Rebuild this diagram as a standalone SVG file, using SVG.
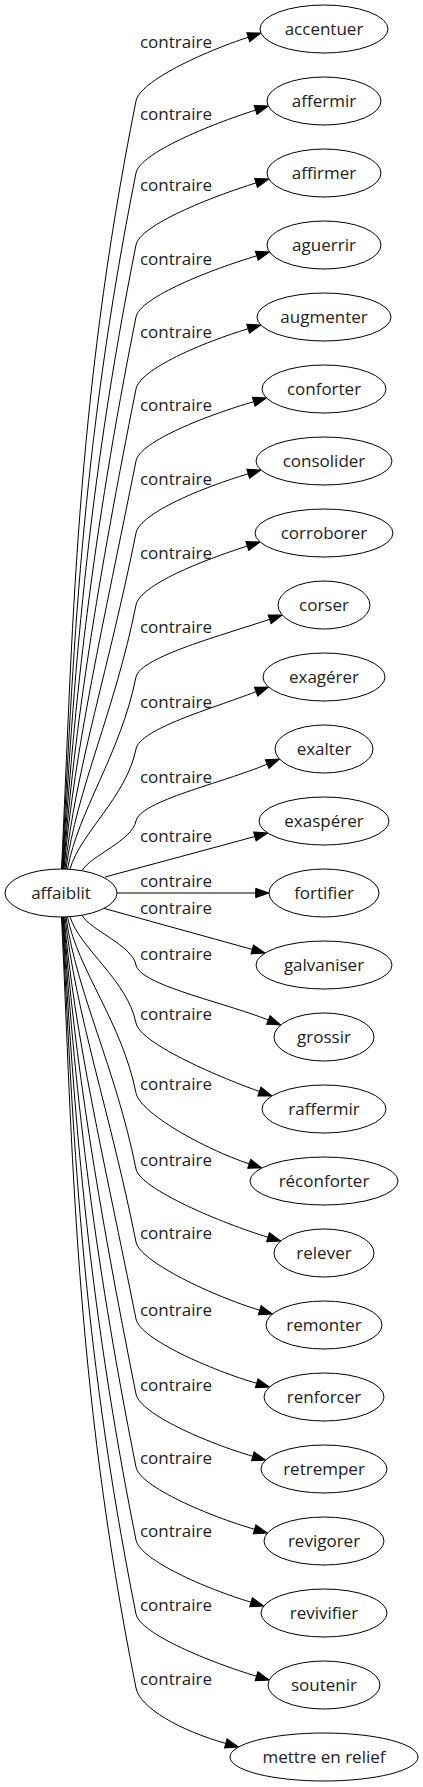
<svg xmlns="http://www.w3.org/2000/svg" width="423" height="1787" viewBox="0 0 423 1787">
<style>
.n ellipse{fill:#fff;stroke:#000;stroke-width:1}
.n text{font-family:"Open Sans","Noto Sans","DejaVu Sans",sans-serif;font-size:17px;fill:#222;text-anchor:middle}
.e path{fill:none;stroke:#000;stroke-width:1;marker-end:url(#ah)}
.e text{font-family:"Open Sans","Noto Sans","DejaVu Sans",sans-serif;font-size:17px;fill:#222;text-anchor:middle}
</style>
<defs>
<marker id="ah" markerUnits="userSpaceOnUse" markerWidth="15" markerHeight="11" refX="0" refY="4.67" orient="auto" overflow="visible">
<path d="M0,0 L13.3,4.67 L0,9.33 Z" fill="#000" stroke="#000" stroke-width="1"/>
</marker>
</defs>
<rect width="423" height="1787" fill="#fff"/>
<g id="edges" class="e">
<path d="M61.5,869.2 C72.7,638.7 74.5,408.3 136,101 C140,81 203.3,52 248.3,37.2"/>
<path d="M62,869.2 C73.1,660.3 80.3,451.5 136,173 C140,153 210.6,124.45 255.6,110.05"/>
<path d="M62.5,869.2 C73.5,681.9 86.1,494.7 136,245 C140,225 211.1,196.9 256.1,182.9"/>
<path d="M63,869.2 C74,703.5 91.8,537.9 136,317 C140,297 211.8,269.3 256.8,255.8"/>
<path d="M63.5,869.2 C74.4,725.1 97.6,581.1 136,389 C140,369 203.1,342.3 248.1,328.8"/>
<path d="M64,869.2 C74.8,746.7 103.3,624.3 136,461 C140,441 208.7,414.75 253.7,401.7"/>
<path d="M65,869.2 C75.65,768.3 109.1,667.5 136,533 C140,513 203.2,487.3 248.2,473.8"/>
<path d="M66,869.2 C76.5,789.9 114.9,710.7 136,605 C140,585 202.3,560.45 247.3,546.05"/>
<path d="M67.5,869.2 C77.8,811.5 120.6,753.9 136,677 C140,657 224.6,634.6 269.6,619.3"/>
<path d="M70,869.3 C79.9,833.2 126.4,797.1 136,749 C140,729 211.1,708.8 256.1,691.7"/>
<path d="M82,870.8 C90.1,855.9 132,840.9 136,821 C140,801 222.2,783.05 267.2,764.15"/>
<path d="M105,877 C154.8,863.6 206.1,849.8 254.9,836.5"/>
<path d="M117,893 C163,893 209,893 255.7,893"/>
<path d="M104,908.4 C152.9,921.9 203.4,935.9 252.3,949.45"/>
<path d="M82,915.2 C90.1,930.1 132,945.1 136,965 C140,985 223.35,1002.06 268.35,1020.06"/>
<path d="M70,916.7 C79.9,948.6 127.5,980.5 136,1023 C140,1043 214.4,1075.3 259.4,1091.5"/>
<path d="M67.5,916.8 C77.8,969.7 121.9,1022.5 136,1093 C140,1113 204.2,1148.95 249.2,1163.8"/>
<path d="M66,916.8 C76.5,992.5 115.8,1068.1 136,1169 C140,1189 223,1223.7 268,1237.2"/>
<path d="M65,916.8 C75.65,1014.4 110,1111.9 136,1242 C140,1262 214.7,1296.7 259.7,1310.2"/>
<path d="M64,916.8 C74.8,1037.5 103.8,1158.1 136,1319 C140,1339 211.7,1370.25 256.7,1383.3"/>
<path d="M63.5,916.8 C74.4,1060 97.8,1203.1 136,1394 C140,1414 207.8,1443.25 252.8,1456.3"/>
<path d="M63,916.8 C74,1081.9 92,1246.9 136,1467 C140,1487 209.6,1516.25 254.6,1529.3"/>
<path d="M62.5,916.8 C73.5,1103.8 86.1,1290.7 136,1540 C140,1560 206,1588.7 251,1602.2"/>
<path d="M62,916.8 C73.1,1126 80.2,1335.1 136,1614 C140,1634 211.5,1662.7 256.5,1676.2"/>
<path d="M61.5,916.8 C72.7,1148.2 74.3,1379.5 136,1688 C140,1708 180.8,1730.8 225.8,1743.4"/>
<text x="176" y="47.5">contraire</text>
<text x="176" y="119.5">contraire</text>
<text x="176" y="191">contraire</text>
<text x="176" y="265">contraire</text>
<text x="176" y="338">contraire</text>
<text x="176" y="411">contraire</text>
<text x="176" y="485">contraire</text>
<text x="176" y="559">contraire</text>
<text x="176" y="633">contraire</text>
<text x="176" y="708">contraire</text>
<text x="176" y="783">contraire</text>
<text x="176" y="842">contraire</text>
<text x="176" y="887">contraire</text>
<text x="176" y="914">contraire</text>
<text x="176" y="960">contraire</text>
<text x="176" y="1020">contraire</text>
<text x="176" y="1090">contraire</text>
<text x="176" y="1166">contraire</text>
<text x="176" y="1239">contraire</text>
<text x="176" y="1316">contraire</text>
<text x="176" y="1391">contraire</text>
<text x="176" y="1464">contraire</text>
<text x="176" y="1537">contraire</text>
<text x="176" y="1611">contraire</text>
<text x="176" y="1685">contraire</text>
</g>
<g id="affaiblit" class="n"><ellipse cx="61" cy="893" rx="56" ry="24"/><text x="61" y="899">affaiblit</text></g>
<g id="accentuer" class="n"><ellipse cx="324" cy="29" rx="64" ry="24"/><text x="324" y="35">accentuer</text></g>
<g id="affermir" class="n"><ellipse cx="324" cy="101" rx="57" ry="24"/><text x="324" y="107">affermir</text></g>
<g id="affirmer" class="n"><ellipse cx="324" cy="173" rx="57" ry="24"/><text x="324" y="179">affirmer</text></g>
<g id="aguerrir" class="n"><ellipse cx="324" cy="245" rx="57" ry="24"/><text x="324" y="251">aguerrir</text></g>
<g id="augmenter" class="n"><ellipse cx="324" cy="317" rx="67" ry="24"/><text x="324" y="323">augmenter</text></g>
<g id="conforter" class="n"><ellipse cx="324" cy="389" rx="62" ry="24"/><text x="324" y="395">conforter</text></g>
<g id="consolider" class="n"><ellipse cx="324" cy="461" rx="68" ry="24"/><text x="324" y="467">consolider</text></g>
<g id="corroborer" class="n"><ellipse cx="324" cy="533" rx="69" ry="24"/><text x="324" y="539">corroborer</text></g>
<g id="corser" class="n"><ellipse cx="324" cy="605" rx="46" ry="24"/><text x="324" y="611">corser</text></g>
<g id="exagerer" class="n"><ellipse cx="324" cy="677" rx="61" ry="24"/><text x="324" y="683">exagérer</text></g>
<g id="exalter" class="n"><ellipse cx="324" cy="749" rx="49" ry="24"/><text x="324" y="755">exalter</text></g>
<g id="exasperer" class="n"><ellipse cx="324" cy="821" rx="65" ry="24"/><text x="324" y="827">exaspérer</text></g>
<g id="fortifier" class="n"><ellipse cx="324" cy="893" rx="55" ry="24"/><text x="324" y="899">fortifier</text></g>
<g id="galvaniser" class="n"><ellipse cx="324" cy="965" rx="68" ry="24"/><text x="324" y="971">galvaniser</text></g>
<g id="grossir" class="n"><ellipse cx="324" cy="1037" rx="50" ry="24"/><text x="324" y="1043">grossir</text></g>
<g id="raffermir" class="n"><ellipse cx="324" cy="1109" rx="62" ry="24"/><text x="324" y="1115">raffermir</text></g>
<g id="reconforter" class="n"><ellipse cx="324" cy="1181" rx="74" ry="24"/><text x="324" y="1187">réconforter</text></g>
<g id="relever" class="n"><ellipse cx="324" cy="1253" rx="50" ry="24"/><text x="324" y="1259">relever</text></g>
<g id="remonter" class="n"><ellipse cx="324" cy="1325" rx="58" ry="24"/><text x="324" y="1331">remonter</text></g>
<g id="renforcer" class="n"><ellipse cx="324" cy="1397" rx="60" ry="24"/><text x="324" y="1403">renforcer</text></g>
<g id="retremper" class="n"><ellipse cx="324" cy="1469" rx="63" ry="24"/><text x="324" y="1475">retremper</text></g>
<g id="revigorer" class="n"><ellipse cx="324" cy="1541" rx="60" ry="24"/><text x="324" y="1547">revigorer</text></g>
<g id="revivifier" class="n"><ellipse cx="324" cy="1613" rx="63" ry="24"/><text x="324" y="1619">revivifier</text></g>
<g id="soutenir" class="n"><ellipse cx="324" cy="1685" rx="56" ry="24"/><text x="324" y="1691">soutenir</text></g>
<g id="mettre-en-relief" class="n"><ellipse cx="324" cy="1757" rx="94" ry="24"/><text x="324" y="1763">mettre en relief</text></g>
</svg>
